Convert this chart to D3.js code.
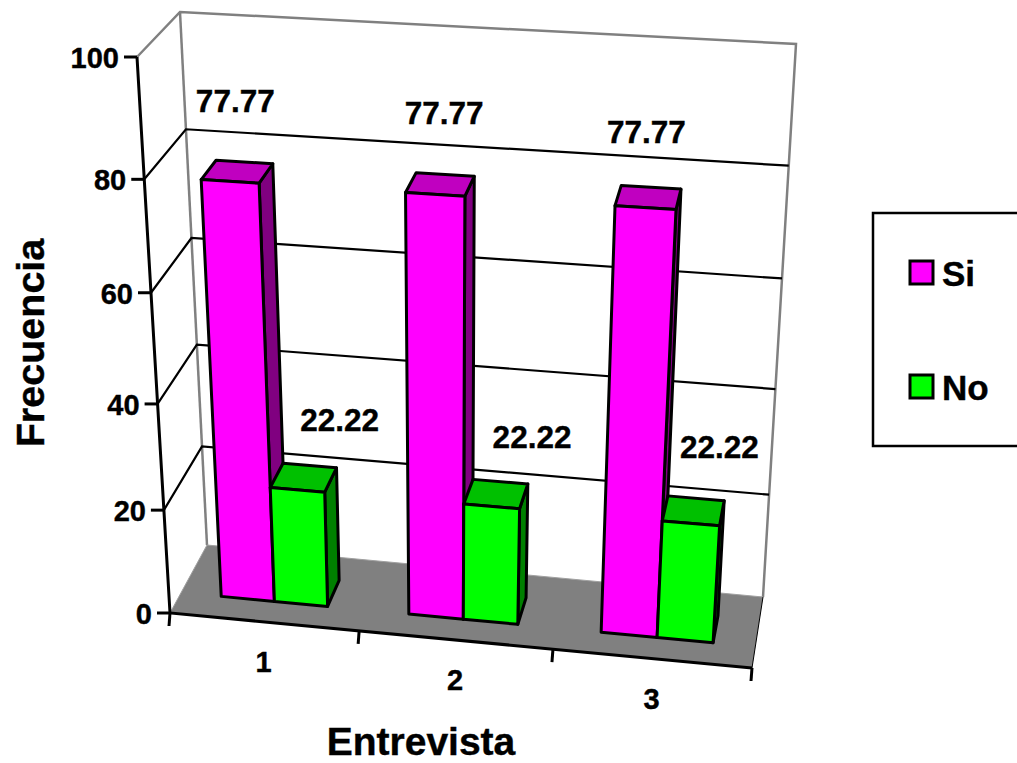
<!DOCTYPE html>
<html>
<head>
<meta charset="utf-8">
<script src="https://d3js.org/d3.v7.min.js"></script>
<style>
body { margin: 0; background: #fff; overflow: hidden; }
text { font-family: "Liberation Sans", Arial, sans-serif; font-weight: bold; fill: #000; stroke: #000; stroke-width: 0.4px; }
</style>
</head>
<body>
<script>
const width = 1017;
const height = 763;

const categories = ["1", "2", "3"];
const seriesNames = ["Si", "No"];
const siValues = [77.77, 77.77, 77.77];
const noValues = [22.22, 22.22, 22.22];
const yTicks = [0, 20, 40, 60, 80, 100];

// the 3D box of the plot: f = front, b = back, l/r, t = top, o = floor
const box = {
	flo: [170, 613], fro: [752, 668], flt: [137, 57], frt: [790, 93],
	blo: [207, 545], bro: [763, 597], blt: [180, 12], brt: [796, 44]
};

// value axis and category axis are both slightly squeezed by the perspective
const y = d3.scaleLinear().domain(yTicks).range([0, 0.185, 0.376, 0.576, 0.78, 1]);
const warp = d3.scaleLinear().domain([0, 1 / 3, 2 / 3, 1]).range([0, 0.325, 0.658, 1]);
const x = d3.scaleBand().domain(categories).range([0, 1]).paddingInner(0.43).paddingOuter(0.215);
const xSeries = d3.scaleBand().domain(seriesNames).range([0, x.bandwidth()]);

const depthFront = 0.3;
const depthBack = 0.68;

const mix = (a, b, t) => [a[0] + (b[0] - a[0]) * t, a[1] + (b[1] - a[1]) * t];

// u along the categories, v up the value axis, w into the depth, all 0..1
function project(u, v, w) {
	const fo = mix(box.flo, box.fro, u), ft = mix(box.flt, box.frt, u);
	const bo = mix(box.blo, box.bro, u), bt = mix(box.blt, box.brt, u);
	return mix(mix(fo, ft, v), mix(bo, bt, v), w);
}

const line = d3.line();
const poly = (pts) => line(pts) + "Z";

const svg = d3.select("body")
	.append("svg")
	.attr("width", width)
	.attr("height", height)
	.style("display", "block");

// walls
svg.append("path")
	.attr("d", line([project(0, 1, 0), project(0, 1, 1), project(1, 1, 1), project(1, 0, 1)]))
	.attr("fill", "none").attr("stroke", "#808080").attr("stroke-width", 2.5);
svg.append("path")
	.attr("d", line([project(0, 1, 1), project(0, 0, 1)]))
	.attr("stroke", "#808080").attr("stroke-width", 2.5);

// gridlines on left and back wall
svg.selectAll(".grid")
	.data(yTicks.filter((d) => d > 0 && d < 100))
	.enter().append("path")
	.attr("class", "grid")
	.attr("d", (d) => line([project(0, y(d), 0), project(0, y(d), 1), project(1, y(d), 1)]))
	.attr("fill", "none").attr("stroke", "#000").attr("stroke-width", 2.2);

// floor
svg.append("path")
	.attr("d", poly([project(0, 0, 0), project(1, 0, 0), project(1, 0, 1), project(0, 0, 1)]))
	.attr("fill", "#808080").attr("stroke", "none");
svg.append("path")
	.attr("d", line([project(0, 0, 0), project(0, 0, 1), project(1, 0, 1)]))
	.attr("fill", "none").attr("stroke", "#a0a0a0").attr("stroke-width", 1);
svg.append("path")
	.attr("d", line([project(1, 0, 0), project(1, 0, 1)]))
	.attr("fill", "none").attr("stroke", "#000").attr("stroke-width", 1);

// axes
svg.append("path")
	.attr("d", line([project(0, 1, 0), project(0, 0, 0), project(1, 0, 0)]))
	.attr("fill", "none").attr("stroke", "#000").attr("stroke-width", 3);

svg.selectAll(".ytick")
	.data(yTicks)
	.enter().append("path")
	.attr("class", "ytick")
	.attr("d", (d) => {
		const p = project(0, y(d), 0);
		return line([p, [p[0] - 13, p[1]]]);
	})
	.attr("stroke", "#000").attr("stroke-width", 3);

svg.selectAll(".ylabel")
	.data(yTicks)
	.enter().append("text")
	.attr("class", "ylabel")
	.attr("x", (d) => project(0, y(d), 0)[0] - 18)
	.attr("y", (d) => project(0, y(d), 0)[1] + 11)
	.attr("text-anchor", "end")
	.attr("font-size", 29)
	.text((d) => d);

svg.selectAll(".xtick")
	.data(warp.range())
	.enter().append("path")
	.attr("class", "xtick")
	.attr("d", (d) => {
		const p = project(d, 0, 0);
		return line([p, [p[0] - 1, p[1] + 13]]);
	})
	.attr("stroke", "#000").attr("stroke-width", 3);

svg.selectAll(".xlabel")
	.data(categories)
	.enter().append("text")
	.attr("class", "xlabel")
	.attr("x", (d) => project(warp(x(d) + x.bandwidth() / 2), 0, 0)[0] - 1)
	.attr("y", (d) => project(warp(x(d) + x.bandwidth() / 2), 0, 0)[1] + 50)
	.attr("text-anchor", "middle")
	.attr("font-size", 29)
	.text((d) => d);

// bars, one category at a time, Si first so No sits in front of its side face
const colors = {
	Si: { front: "#ff00ff", top: "#c000c0", side: "#800080" },
	No: { front: "#00ff00", top: "#00c000", side: "#008000" }
};

const barData = [];
categories.forEach((c, i) => {
	barData.push({ cat: c, i: i, name: "Si", value: siValues[i] });
	barData.push({ cat: c, i: i, name: "No", value: noValues[i] });
});

const barStroke = (sel) => sel.attr("stroke", "#000").attr("stroke-width", 3).attr("stroke-linejoin", "round");

barData.forEach((d) => {
	const u0 = warp(x(d.cat) + xSeries(d.name));
	const u1 = warp(x(d.cat) + xSeries(d.name) + xSeries.bandwidth());
	const v = y(d.value);
	svg.append("path")
		.attr("d", poly([project(u1, 0, depthFront), project(u1, v, depthFront), project(u1, v, depthBack), project(u1, 0, depthBack)]))
		.attr("fill", colors[d.name].side).call(barStroke);
	svg.append("path")
		.attr("d", poly([project(u0, v, depthFront), project(u1, v, depthFront), project(u1, v, depthBack), project(u0, v, depthBack)]))
		.attr("fill", colors[d.name].top).call(barStroke);
	svg.append("path")
		.attr("d", poly([project(u0, 0, depthFront), project(u1, 0, depthFront), project(u1, v, depthFront), project(u0, v, depthFront)]))
		.attr("fill", colors[d.name].front).call(barStroke);
});

// value labels float above the bar tops, nudged per category
const labelShift = {
	Si: [[-2, -60], [4, -60], [-2, -54]],
	No: [[36, -47], [36, -46], [26, -53]]
};
function labelAnchor(d) {
	const u = warp(x(d.cat) + xSeries(d.name) + xSeries.bandwidth() / 2);
	return project(u, y(d.value), (depthFront + depthBack) / 2);
}
svg.selectAll(".value")
	.data(barData)
	.enter().append("text")
	.attr("class", "value")
	.attr("x", (d) => labelAnchor(d)[0] + labelShift[d.name][d.i][0])
	.attr("y", (d) => labelAnchor(d)[1] + labelShift[d.name][d.i][1])
	.attr("text-anchor", "middle")
	.attr("font-size", 31.5)
	.text((d) => d.value.toFixed(2));

// axis titles
svg.append("text")
	.attr("x", 421).attr("y", 754.5)
	.attr("text-anchor", "middle")
	.attr("font-size", 39)
	.text("Entrevista");
svg.append("text")
	.attr("transform", "translate(44,343) rotate(-90)")
	.attr("text-anchor", "middle")
	.attr("font-size", 39.5)
	.text("Frecuencia");

// legend, its right side runs off the picture
svg.append("rect")
	.attr("x", 873).attr("y", 213)
	.attr("width", 200).attr("height", 233)
	.attr("fill", "#fff").attr("stroke", "#000").attr("stroke-width", 2.5);

const legend = svg.selectAll(".legend")
	.data(seriesNames)
	.enter().append("g")
	.attr("class", "legend")
	.attr("transform", (d, i) => "translate(910," + (261 + i * 114) + ")");
legend.append("rect")
	.attr("width", 23).attr("height", 23)
	.attr("fill", (d) => colors[d].front)
	.attr("stroke", "#000").attr("stroke-width", 3);
legend.append("text")
	.attr("x", 32).attr("y", 25)
	.attr("font-size", 35)
	.text((d) => d);
</script>
</body>
</html>
